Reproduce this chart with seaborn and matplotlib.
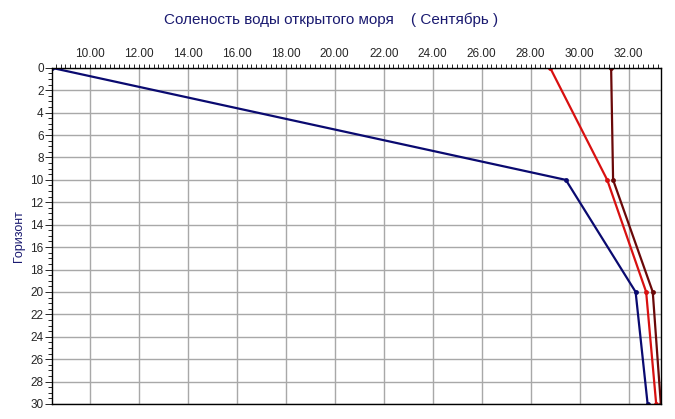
import pandas as pd
import matplotlib.pyplot as plt
import seaborn as sns
from matplotlib.ticker import MultipleLocator, FormatStrFormatter

# Horizons (depth) and salinity for three stations
depth = [0, 10, 20, 30]
salinity_navy = [8.45, 29.44, 32.29, 32.78]
salinity_red = [28.80, 31.13, 32.72, 33.13]
salinity_darkred = [31.29, 31.37, 32.99, 33.32]

series_names = ["st1", "st2", "st3"]
colors = {"st1": "#0a0a70", "st2": "#d81010", "st3": "#6a0808"}

rows = []
for name, vals in zip(series_names, [salinity_navy, salinity_red, salinity_darkred]):
    for d, v in zip(depth, vals):
        rows.append({"series": name, "depth": d, "salinity": v})
df = pd.DataFrame(rows)

sns.set_style("white")
plt.rcParams["font.family"] = ["Liberation Sans", "DejaVu Sans"]

fig = plt.figure(figsize=(6.75, 4.19), dpi=100)
ax = fig.add_axes([0.077, 0.036, 0.902, 0.802])

sns.lineplot(
    data=df, x="salinity", y="depth", hue="series", palette=colors,
    orient="y", marker="o", markersize=3.5, markeredgewidth=0,
    linewidth=1.6, legend=False, ax=ax,
)

all_vals = salinity_navy + salinity_red + salinity_darkred
ax.set_xlim(min(all_vals), max(all_vals))
ax.set_ylim(30, 0)

ax.xaxis.tick_top()
ax.xaxis.set_major_locator(MultipleLocator(2))
ax.xaxis.set_minor_locator(MultipleLocator(0.2))
ax.xaxis.set_major_formatter(FormatStrFormatter("%.2f"))
ax.yaxis.set_major_locator(MultipleLocator(2))
ax.yaxis.set_minor_locator(MultipleLocator(0.5))

ax.tick_params(axis="x", which="both", top=True, bottom=False, direction="out",
               labelsize=8.5, length=3, width=0.7, pad=3)
ax.tick_params(axis="y", which="both", left=True, direction="out",
               labelsize=8.5, length=3, width=0.7, pad=1)
ax.tick_params(axis="y", which="major", length=5)

ax.grid(True, which="major", color="#a8a8a8", linewidth=1.0)
ax.set_axisbelow(True)
for sp in ax.spines.values():
    sp.set_color("black")
    sp.set_linewidth(1.0)

ax.set_xlabel("")
ax.set_ylabel("Горизонт", color="#1a1a70", fontsize=9, labelpad=4)

fig.text(0.49, 0.952, "Соленость воды открытого моря    ( Сентябрь )",
         ha="center", va="center", color="#1a1a70", fontsize=11)

fig.savefig("out.png", dpi=100)
